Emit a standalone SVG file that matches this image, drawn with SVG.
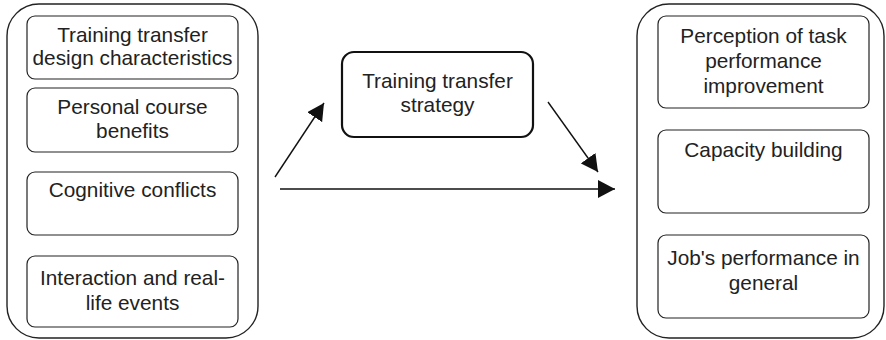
<svg xmlns="http://www.w3.org/2000/svg" width="886" height="340" viewBox="0 0 886 340">
  <style>
    .outer { fill: #fff; stroke: #222; stroke-width: 1.4; }
    .box { fill: #fff; stroke: #222; stroke-width: 1.2; }
    .main { fill: #fff; stroke: #111; stroke-width: 2.2; }
    .lbl { font-family: "Liberation Sans", Arial, sans-serif; font-size: 20.8px; fill: #222; text-anchor: middle; }
    .conn { stroke: #111; stroke-width: 1.4; fill: none; }
  </style>
  <defs>
    <marker id="head" viewBox="0 0 17 18" refX="17" refY="9" markerWidth="17" markerHeight="18" markerUnits="userSpaceOnUse" orient="auto">
      <path d="M0,0 L17,9 L0,18 Z" fill="#111"/>
    </marker>
  </defs>
  <rect width="886" height="340" fill="#fff"/>

  <!-- left group: factors -->
  <g id="factors">
    <rect class="outer" x="7" y="4" width="251" height="334" rx="32"/>
    <g id="design">
      <rect class="box" x="27" y="16" width="211" height="63" rx="8"/>
      <text class="lbl" x="132.5" y="42">Training transfer</text>
      <text class="lbl" x="132.5" y="65">design characteristics</text>
    </g>
    <g id="benefits">
      <rect class="box" x="27" y="88" width="211" height="64" rx="8"/>
      <text class="lbl" x="132.5" y="114">Personal course</text>
      <text class="lbl" x="132.5" y="138">benefits</text>
    </g>
    <g id="conflicts">
      <rect class="box" x="27" y="172" width="211" height="63" rx="8"/>
      <text class="lbl" x="132.5" y="197">Cognitive conflicts</text>
    </g>
    <g id="events">
      <rect class="box" x="27" y="256" width="211" height="71" rx="8"/>
      <text class="lbl" x="132.5" y="285">Interaction and real-</text>
      <text class="lbl" x="132.5" y="310">life events</text>
    </g>
  </g>

  <!-- mediator -->
  <g id="strategy">
    <rect class="main" x="342" y="52" width="191" height="85" rx="12"/>
    <text class="lbl" x="437.5" y="88">Training transfer</text>
    <text class="lbl" x="437.5" y="112">strategy</text>
  </g>

  <!-- right group: outcomes -->
  <g id="outcomes">
    <rect class="outer" x="637" y="4" width="247" height="334" rx="32"/>
    <g id="perception">
      <rect class="box" x="658" y="16" width="211" height="92" rx="8"/>
      <text class="lbl" x="763.5" y="43">Perception of task</text>
      <text class="lbl" x="763.5" y="68">performance</text>
      <text class="lbl" x="763.5" y="93">improvement</text>
    </g>
    <g id="capacity">
      <rect class="box" x="658" y="130" width="211" height="83" rx="8"/>
      <text class="lbl" x="763.5" y="157">Capacity building</text>
    </g>
    <g id="job">
      <rect class="box" x="658" y="235" width="211" height="83" rx="8"/>
      <text class="lbl" x="763.5" y="265">Job's performance in</text>
      <text class="lbl" x="763.5" y="290">general</text>
    </g>
  </g>

  <!-- connectors -->
  <g id="connectors">
    <line class="conn" x1="275" y1="177" x2="324" y2="103" marker-end="url(#head)"/>
    <line class="conn" x1="548" y1="102" x2="598" y2="172" marker-end="url(#head)"/>
    <line class="conn" x1="280" y1="189" x2="615" y2="189" marker-end="url(#head)"/>
  </g>
</svg>
